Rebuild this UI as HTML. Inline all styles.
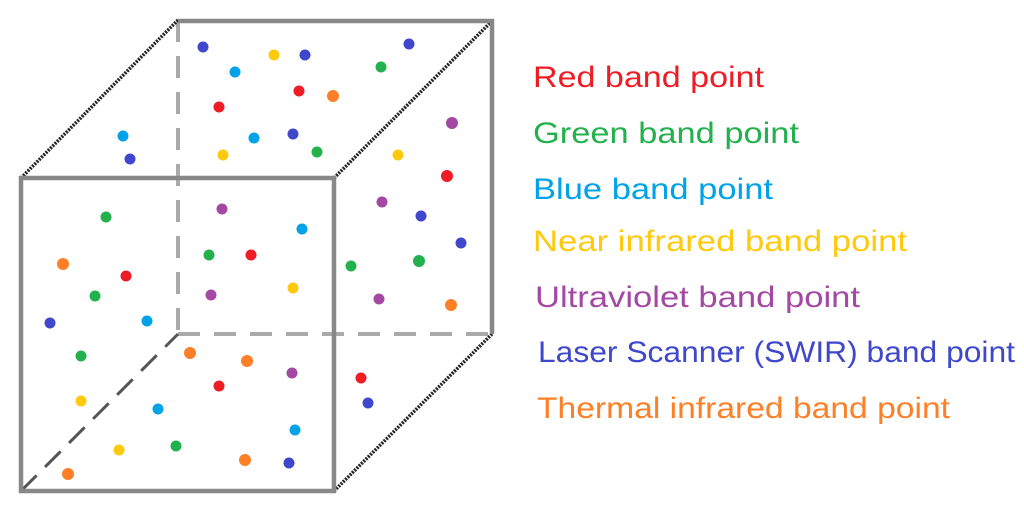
<!DOCTYPE html>
<html><head><meta charset="utf-8"><style>html,body{margin:0;padding:0;background:#fff;}svg{display:block}</style></head>
<body>
<svg width="1024" height="518" viewBox="0 0 1024 518" xmlns="http://www.w3.org/2000/svg">
<g fill="none" stroke-linecap="butt">
<line x1="178" y1="20" x2="178" y2="330" stroke="#aaa" stroke-width="4" stroke-dasharray="22,14"/>
<line x1="178" y1="334" x2="490" y2="334" stroke="#aaa" stroke-width="4" stroke-dasharray="22,14"/>
<line x1="21" y1="491" x2="178" y2="334" stroke="#555" stroke-width="3" stroke-dasharray="22,12"/>
<line x1="21" y1="178" x2="178" y2="20" stroke="#222" stroke-width="3.5" stroke-dasharray="2,1.2"/>
<line x1="334" y1="178" x2="492" y2="21" stroke="#222" stroke-width="3.5" stroke-dasharray="2,1.2"/>
<line x1="334" y1="491" x2="492" y2="334" stroke="#222" stroke-width="3.5" stroke-dasharray="2,1.2"/>
<polyline points="178,21 492,21 492,334" stroke="#888" stroke-width="4.5"/>
<rect x="21" y="178" width="313" height="313" stroke="#888" stroke-width="4.5"/>
</g>
<g>
<circle cx="203" cy="47" r="5.5" fill="#3f48cc"/><circle cx="274" cy="55" r="5.5" fill="#ffc90e"/><circle cx="305" cy="55" r="5.5" fill="#3f48cc"/><circle cx="235" cy="72" r="5.5" fill="#00a2e8"/><circle cx="381" cy="67" r="5.5" fill="#22b14c"/><circle cx="409" cy="44" r="5.5" fill="#3f48cc"/><circle cx="299" cy="91" r="5.5" fill="#ee1c25"/><circle cx="333" cy="96" r="6" fill="#ff7f27"/><circle cx="219" cy="107" r="5.5" fill="#ee1c25"/><circle cx="452" cy="123" r="6" fill="#a349a4"/><circle cx="123" cy="136" r="5.5" fill="#00a2e8"/><circle cx="254" cy="138" r="5.5" fill="#00a2e8"/><circle cx="293" cy="134" r="5.5" fill="#3f48cc"/><circle cx="130" cy="159" r="5.5" fill="#3f48cc"/><circle cx="223" cy="155" r="5.5" fill="#ffc90e"/><circle cx="317" cy="152" r="5.5" fill="#22b14c"/><circle cx="398" cy="155" r="5.5" fill="#ffc90e"/><circle cx="447" cy="176" r="6" fill="#ee1c25"/><circle cx="382" cy="202" r="5.5" fill="#a349a4"/><circle cx="421" cy="216" r="5.5" fill="#3f48cc"/><circle cx="106" cy="217" r="5.5" fill="#22b14c"/><circle cx="222" cy="209" r="5.5" fill="#a349a4"/><circle cx="302" cy="229" r="5.5" fill="#00a2e8"/><circle cx="461" cy="243" r="5.5" fill="#3f48cc"/><circle cx="209" cy="255" r="5.5" fill="#22b14c"/><circle cx="251" cy="255" r="5.5" fill="#ee1c25"/><circle cx="63" cy="264" r="6" fill="#ff7f27"/><circle cx="126" cy="276" r="5.5" fill="#ee1c25"/><circle cx="351" cy="266" r="5.5" fill="#22b14c"/><circle cx="419" cy="261" r="6" fill="#22b14c"/><circle cx="293" cy="288" r="5.5" fill="#ffc90e"/><circle cx="95" cy="296" r="5.5" fill="#22b14c"/><circle cx="211" cy="295" r="5.5" fill="#a349a4"/><circle cx="379" cy="299" r="5.5" fill="#a349a4"/><circle cx="451" cy="305" r="6" fill="#ff7f27"/><circle cx="50" cy="323" r="5.5" fill="#3f48cc"/><circle cx="147" cy="321" r="5.5" fill="#00a2e8"/><circle cx="81" cy="356" r="5.5" fill="#22b14c"/><circle cx="190" cy="353" r="6" fill="#ff7f27"/><circle cx="247" cy="361" r="6" fill="#ff7f27"/><circle cx="292" cy="373" r="5.5" fill="#a349a4"/><circle cx="219" cy="386" r="5.5" fill="#ee1c25"/><circle cx="361" cy="378" r="5.5" fill="#ee1c25"/><circle cx="81" cy="401" r="5.5" fill="#ffc90e"/><circle cx="158" cy="409" r="5.5" fill="#00a2e8"/><circle cx="368" cy="403" r="5.5" fill="#3f48cc"/><circle cx="295" cy="430" r="5.5" fill="#00a2e8"/><circle cx="119" cy="450" r="5.5" fill="#ffc90e"/><circle cx="176" cy="446" r="5.5" fill="#22b14c"/><circle cx="245" cy="460" r="6" fill="#ff7f27"/><circle cx="289" cy="463" r="5.5" fill="#3f48cc"/><circle cx="68" cy="474" r="6" fill="#ff7f27"/>
</g>
<g font-family="Liberation Sans, sans-serif" font-size="30">
<text x="533" y="87" fill="#ee1c25" textLength="231" lengthAdjust="spacingAndGlyphs">Red band point</text>
<text x="533" y="143" fill="#22b14c" textLength="266" lengthAdjust="spacingAndGlyphs">Green band point</text>
<text x="533" y="199" fill="#00a2e8" textLength="240" lengthAdjust="spacingAndGlyphs">Blue band point</text>
<text x="533" y="251" fill="#ffc90e" textLength="374" lengthAdjust="spacingAndGlyphs">Near infrared band point</text>
<text x="535" y="307" fill="#a349a4" textLength="325" lengthAdjust="spacingAndGlyphs">Ultraviolet band point</text>
<text x="538" y="362" fill="#3f48cc" textLength="477" lengthAdjust="spacingAndGlyphs">Laser Scanner (SWIR) band point</text>
<text x="537" y="418" fill="#ff7f27" textLength="413" lengthAdjust="spacingAndGlyphs">Thermal infrared band point</text>
</g>
</svg>
</body></html>
